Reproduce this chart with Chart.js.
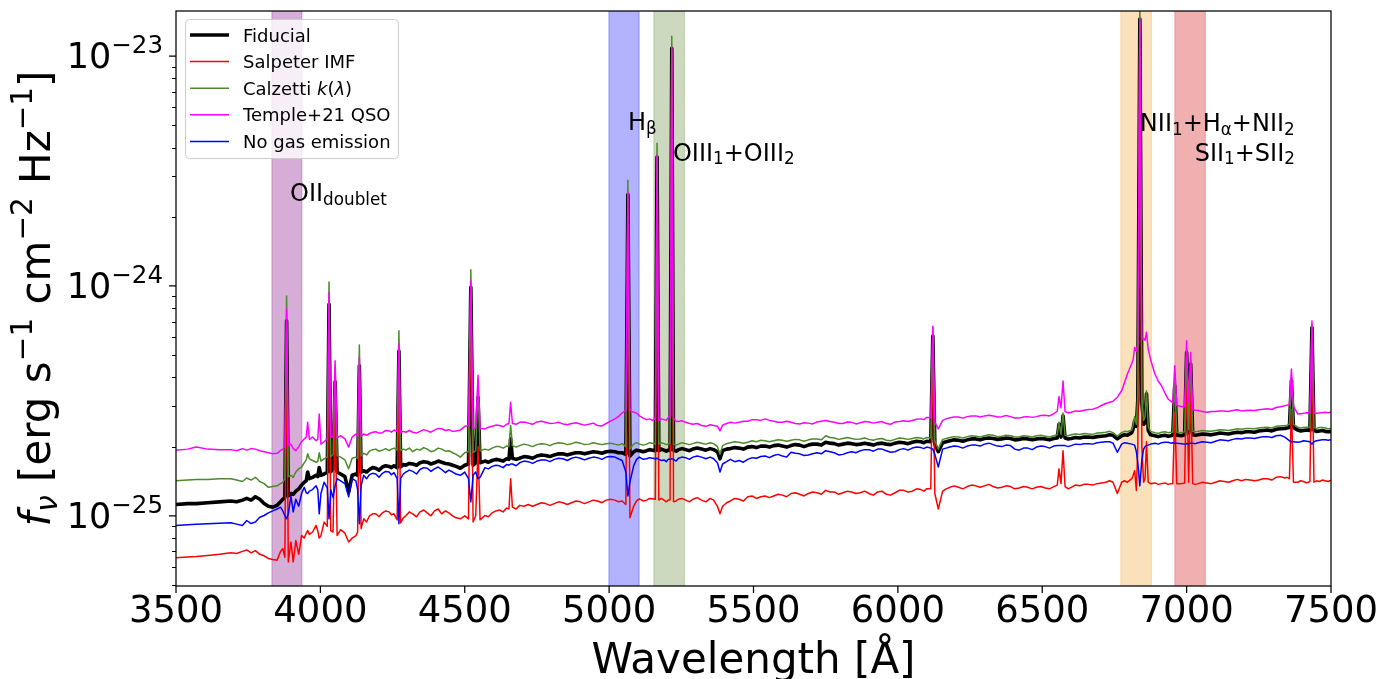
<!DOCTYPE html>
<html><head><meta charset="utf-8">
<script src="https://cdn.jsdelivr.net/npm/chart.js@4.4.0/dist/chart.umd.min.js"></script>
<style>html,body{margin:0;padding:0;background:#fff}#wrap{width:1392px;height:679px;position:relative}</style>
</head><body><div id="wrap"><canvas id="c" width="1392" height="679"></canvas></div>
<script>
// flux values are in units of 1e-25 erg s^-1 cm^-2 Hz^-1
const FLUX_UNIT = 1e-25;

const wavelength = [
3500,3540,3570,3610,3650,3690,3710,3730,3745,3760,
3775,3790,3805,3820,3835,3850,3862,3870,3877,3883,
3889,3898,3906,3915,3925,3935,3944,3951,3956,3962,
3973,3985,3991,3996,4002,4013,4024,4030,4036,4044,
4051,4058,4070,4085,4098,4110,4123,4129,4135,4141,
4150,4160,4170,4181,4192,4203,4215,4226,4238,4246,
4255,4266,4272,4278,4287,4296,4308,4320,4333,4345,
4358,4370,4383,4395,4408,4420,4433,4445,4458,4470,
4485,4500,4513,4521,4529,4538,4546,4553,4570,4582,
4595,4608,4620,4633,4645,4653,4659,4665,4678,4690,
4705,4720,4735,4750,4765,4780,4795,4810,4825,4840,
4855,4870,4885,4900,4915,4930,4945,4960,4975,4990,
5005,5020,5032,5045,5058,5065,5072,5085,5095,5105,
5118,5130,5140,5150,5160,5166,5172,5181,5190,5198,
5205,5211,5217,5223,5232,5240,5252,5265,5278,5290,
5305,5320,5335,5350,5362,5375,5384,5393,5407,5420,
5435,5450,5465,5480,5495,5510,5525,5540,5555,5570,
5585,5600,5615,5630,5645,5660,5675,5690,5705,5720,
5735,5750,5765,5780,5795,5810,5825,5840,5855,5870,
5885,5900,5915,5930,5945,5960,5975,5990,6005,6020,
6035,6050,6065,6080,6090,6100,6114,6121,6128,6140,
6155,6167,6180,6195,6210,6225,6240,6255,6270,6285,
6300,6315,6330,6345,6360,6375,6390,6405,6420,6435,
6450,6465,6480,6495,6510,6525,6540,6552,6558,6565,
6572,6579,6590,6600,6615,6630,6645,6660,6675,6690,
6705,6720,6733,6745,6760,6775,6785,6795,6810,6815,
6820,6826,6831,6838,6845,6851,6856,6861,6867,6875,
6890,6902,6913,6925,6936,6945,6952,6959,6966,6982,
6993,7000,7007,7014,7021,7030,7040,7055,7070,7085,
7100,7115,7130,7145,7160,7175,7190,7205,7220,7235,
7250,7265,7280,7295,7310,7325,7340,7348,7356,7363,
7370,7385,7395,7405,7416,7427,7434,7441,7450,7460,
7470,7480,7490,7500];

const fiducial = [
1.12,1.13,1.13,1.14,1.15,1.16,1.15,1.17,1.19,1.17,
1.21,1.18,1.13,1.10,1.09,1.11,1.15,1.18,1.20,7.05,
1.22,1.25,1.24,1.28,1.31,1.36,1.40,1.42,1.55,1.45,
1.47,1.50,1.48,1.62,1.50,1.52,1.55,8.32,1.55,1.60,
3.83,1.55,1.52,1.48,1.27,1.50,1.52,1.50,4.49,1.55,
1.57,1.55,1.59,1.62,1.61,1.58,1.63,1.65,1.64,1.62,
1.65,1.62,5.21,1.63,1.67,1.66,1.69,1.68,1.66,1.70,
1.72,1.71,1.68,1.70,1.73,1.71,1.69,1.68,1.66,1.64,
1.61,1.66,1.68,9.86,1.66,1.70,3.28,1.70,1.73,1.71,
1.74,1.76,1.75,1.73,1.77,1.76,2.16,1.78,1.76,1.78,
1.81,1.80,1.78,1.82,1.84,1.83,1.81,1.84,1.86,1.86,
1.84,1.86,1.88,1.88,1.86,1.88,1.90,1.89,1.87,1.90,
1.91,1.90,1.88,1.88,1.85,25.0,1.82,1.90,1.93,1.92,
1.90,1.92,1.94,1.93,1.92,36.4,1.92,1.95,1.93,1.91,
1.93,1.93,108,1.93,1.91,1.94,1.96,1.94,1.92,1.95,
1.97,1.95,1.93,1.96,1.94,1.90,1.77,1.92,1.95,1.96,
1.98,1.97,1.95,1.99,2.00,1.98,2.01,2.01,1.99,2.02,
2.03,2.01,1.99,2.02,2.04,2.03,2.00,2.03,2.05,2.05,
2.03,2.09,2.07,2.06,2.03,2.05,2.07,2.06,2.04,2.05,
2.07,2.05,2.03,2.06,2.07,2.05,2.04,2.07,2.09,2.08,
2.06,2.09,2.11,2.10,2.08,2.11,2.10,6.05,2.05,1.90,
2.08,2.10,2.12,2.14,2.13,2.11,2.14,2.16,2.16,2.14,
2.17,2.18,2.17,2.15,2.16,2.18,2.17,2.14,2.15,2.17,
2.16,2.14,2.16,2.17,2.16,2.14,2.17,2.18,2.50,2.20,
2.72,2.18,2.16,2.17,2.19,2.18,2.20,2.20,2.19,2.21,
2.22,2.23,2.25,2.24,2.16,2.23,2.25,2.24,2.30,2.40,
2.59,2.45,3.20,145,3.10,2.50,2.55,3.39,2.35,2.25,
2.23,2.21,2.23,2.24,2.22,2.23,2.24,3.68,2.24,2.23,
2.25,5.13,2.30,4.57,2.25,2.24,2.25,2.27,2.26,2.25,
2.27,2.29,2.28,2.27,2.29,2.31,2.30,2.32,2.32,2.31,
2.34,2.35,2.36,2.34,2.38,2.39,2.40,2.41,2.42,3.87,
2.42,2.36,2.34,2.35,2.36,2.35,6.59,2.35,2.33,2.34,
2.35,2.33,2.32,2.33];

const salpeter = [
0.657,0.662,0.665,0.672,0.68,0.69,0.685,0.70,0.71,0.69,
0.705,0.68,0.67,0.652,0.645,0.64,0.70,0.72,0.66,6.3,
0.63,0.769,0.63,0.78,0.68,0.821,0.80,0.84,0.863,0.83,
0.85,0.908,0.86,0.80,0.82,0.939,0.90,7.5,0.86,0.85,
3.1,0.82,0.87,0.84,0.769,0.80,0.82,0.85,3.8,0.88,
0.97,0.94,1.0,1.02,1.02,0.99,1.03,1.05,1.04,1.01,
1.02,0.96,4.5,0.93,0.98,1.0,1.04,1.02,0.99,1.04,
1.06,1.03,1.00,1.05,1.07,1.02,1.05,1.03,1.00,0.98,
0.97,1.0,0.97,9.0,0.939,1.0,2.0,0.96,1.003,0.99,
1.03,1.05,1.06,1.04,1.08,1.07,1.45,1.09,1.07,1.11,
1.10,1.12,1.10,1.12,1.14,1.13,1.11,1.13,1.15,1.14,
1.12,1.14,1.16,1.15,1.13,1.15,1.17,1.16,1.14,1.17,
1.18,1.17,1.15,1.16,1.12,24,0.98,1.10,1.16,1.185,
1.16,1.17,1.19,1.185,1.18,35,1.17,1.19,1.17,1.15,
1.17,1.17,105,1.15,1.16,1.18,1.19,1.17,1.15,1.18,
1.20,1.17,1.15,1.19,1.17,1.10,1.02,1.10,1.14,1.16,
1.19,1.18,1.16,1.21,1.22,1.19,1.21,1.22,1.20,1.22,
1.24,1.23,1.21,1.25,1.26,1.24,1.22,1.25,1.27,1.26,
1.24,1.29,1.27,1.27,1.24,1.26,1.28,1.27,1.25,1.26,
1.28,1.25,1.23,1.27,1.28,1.24,1.23,1.26,1.29,1.29,
1.27,1.28,1.31,1.30,1.28,1.31,1.31,5.3,1.25,1.07,
1.28,1.31,1.33,1.35,1.33,1.31,1.34,1.36,1.35,1.33,
1.35,1.37,1.34,1.32,1.33,1.35,1.34,1.31,1.32,1.34,
1.33,1.31,1.33,1.34,1.32,1.31,1.34,1.36,1.60,1.38,
1.92,1.34,1.31,1.33,1.36,1.35,1.37,1.37,1.36,1.38,
1.39,1.40,1.42,1.40,1.25,1.40,1.42,1.40,1.45,1.50,
1.57,1.29,2.0,140,2.0,1.40,1.45,2.1,1.40,1.38,
1.39,1.37,1.38,1.39,1.37,1.38,1.38,2.83,1.38,1.38,
1.39,4.3,1.40,3.7,1.38,1.37,1.38,1.40,1.39,1.38,
1.40,1.42,1.41,1.40,1.42,1.44,1.42,1.44,1.43,1.42,
1.43,1.45,1.45,1.43,1.47,1.48,1.46,1.47,1.45,2.9,
1.40,1.40,1.42,1.41,1.39,1.41,5.6,1.40,1.42,1.41,
1.43,1.42,1.41,1.43];

const calzetti = [
1.42,1.43,1.44,1.44,1.45,1.45,1.43,1.41,1.46,1.43,
1.47,1.41,1.38,1.33,1.34,1.35,1.38,1.40,1.45,9.05,
1.48,1.50,1.47,1.55,1.60,1.63,1.70,1.75,1.86,1.77,
1.74,1.71,1.72,1.88,1.73,1.77,1.80,10.4,1.80,1.85,
4.4,1.83,1.80,1.75,1.60,1.78,1.80,1.78,5.54,1.82,
1.87,1.84,1.91,1.94,1.95,1.91,1.93,1.96,1.92,1.95,
1.97,1.93,6.38,1.92,1.95,1.93,1.97,1.90,1.95,1.93,
1.98,1.95,1.90,1.92,1.97,1.95,1.91,1.92,1.88,1.85,
1.80,1.88,1.90,11.75,1.88,1.92,3.7,1.92,1.95,1.93,
1.97,2.0,2.0,1.97,2.01,2.0,2.47,2.02,1.99,2.02,
2.05,2.03,2.00,2.04,2.06,2.05,2.02,2.06,2.08,2.07,
2.04,2.06,2.09,2.07,2.04,2.05,2.08,2.06,2.04,2.06,
2.07,2.05,2.03,2.06,2.0,28.8,1.95,2.05,2.08,2.05,
2.03,2.05,2.08,2.07,2.05,41.7,2.05,2.08,2.06,2.04,
2.06,2.06,122,2.05,2.03,2.05,2.08,2.06,2.04,2.06,
2.09,2.07,2.05,2.08,2.06,2.0,1.85,2.02,2.06,2.08,
2.10,2.09,2.07,2.09,2.12,2.10,2.13,2.12,2.10,2.12,
2.14,2.13,2.11,2.13,2.15,2.14,2.11,2.14,2.16,2.16,
2.14,2.23,2.19,2.18,2.15,2.17,2.19,2.17,2.15,2.16,
2.18,2.15,2.13,2.16,2.17,2.13,2.12,2.15,2.18,2.17,
2.15,2.17,2.19,2.18,2.16,2.19,2.18,6.6,2.12,1.95,
2.15,2.17,2.19,2.21,2.20,2.18,2.21,2.23,2.22,2.20,
2.23,2.25,2.24,2.21,2.22,2.24,2.23,2.20,2.20,2.23,
2.22,2.20,2.23,2.24,2.22,2.20,2.23,2.25,2.55,2.26,
2.80,2.24,2.23,2.25,2.27,2.26,2.28,2.27,2.26,2.29,
2.30,2.31,2.33,2.30,2.22,2.30,2.33,2.32,2.36,2.48,
2.70,2.50,3.4,175,3.3,2.6,2.7,3.50,2.45,2.33,
2.30,2.28,2.31,2.32,2.30,2.31,2.31,3.80,2.31,2.30,
2.32,5.3,2.38,4.7,2.33,2.32,2.33,2.35,2.34,2.33,
2.35,2.37,2.36,2.35,2.37,2.39,2.38,2.40,2.40,2.39,
2.41,2.42,2.43,2.41,2.45,2.46,2.47,2.48,2.50,4.0,
2.50,2.43,2.41,2.42,2.43,2.42,6.8,2.42,2.40,2.42,
2.42,2.41,2.39,2.40];

const templeQSO = [
1.93,1.95,1.99,1.95,1.94,1.94,1.92,1.96,1.93,1.96,
1.95,1.92,1.90,1.88,1.86,1.87,1.92,1.95,2.0,7.93,
2.02,2.05,1.96,1.92,2.0,2.10,2.16,2.2,2.55,2.15,
2.20,2.12,2.15,2.77,2.05,2.10,2.16,9.37,2.2,2.2,
4.72,2.18,2.23,2.16,1.99,2.20,2.27,2.22,4.9,2.22,
2.27,2.24,2.28,2.31,2.32,2.29,2.30,2.35,2.34,2.31,
2.36,2.33,5.6,2.30,2.33,2.31,2.35,2.31,2.29,2.33,
2.37,2.34,2.31,2.36,2.40,2.39,2.35,2.37,2.33,2.34,
2.36,2.45,2.47,10.5,2.40,2.42,4.09,2.40,2.39,2.43,
2.45,2.48,2.47,2.44,2.50,2.52,3.12,2.52,2.50,2.55,
2.56,2.53,2.50,2.56,2.58,2.55,2.52,2.53,2.55,2.51,
2.49,2.52,2.54,2.51,2.48,2.50,2.53,2.47,2.46,2.52,
2.58,2.64,2.70,2.80,2.88,25.5,2.88,2.82,2.80,2.72,
2.66,2.62,2.64,2.60,2.65,37,2.60,2.64,2.62,2.60,
2.68,2.72,110,2.65,2.58,2.57,2.59,2.55,2.52,2.50,
2.52,2.47,2.45,2.49,2.47,2.45,2.34,2.48,2.52,2.55,
2.53,2.55,2.58,2.58,2.62,2.62,2.60,2.64,2.60,2.58,
2.55,2.55,2.58,2.55,2.52,2.51,2.54,2.53,2.51,2.56,
2.58,2.60,2.57,2.55,2.52,2.52,2.56,2.55,2.51,2.54,
2.57,2.56,2.53,2.55,2.57,2.52,2.50,2.56,2.57,2.59,
2.57,2.60,2.63,2.64,2.62,2.68,2.68,6.67,2.55,2.39,
2.60,2.64,2.67,2.69,2.69,2.66,2.70,2.72,2.72,2.69,
2.72,2.74,2.72,2.69,2.70,2.73,2.70,2.66,2.66,2.69,
2.70,2.68,2.70,2.73,2.74,2.72,2.78,2.85,3.3,2.95,
3.86,2.84,2.80,2.82,2.86,2.85,2.88,2.90,2.91,2.95,
3.02,3.08,3.12,3.15,3.28,3.50,3.80,4.14,4.6,4.8,
5.4,5.2,5.6,145,5.9,5.9,5.8,6.28,5.3,4.8,
4.14,3.85,3.68,3.42,3.22,3.15,3.10,4.49,3.02,2.99,
2.98,5.77,3.1,5.13,2.9,2.88,2.87,2.84,2.82,2.84,
2.84,2.86,2.86,2.84,2.87,2.89,2.86,2.87,2.88,2.87,
2.89,2.91,2.92,2.90,2.96,2.98,3.01,3.03,3.05,4.35,
3.0,2.77,2.78,2.79,2.81,2.80,7.03,2.80,2.79,2.80,
2.81,2.82,2.81,2.82];

const noGasEmission = [
0.908,0.915,0.918,0.923,0.928,0.932,0.92,0.908,0.954,0.925,
0.939,0.985,1.003,1.03,1.05,1.07,1.09,1.05,1.0,0.97,
1.02,1.22,1.04,1.18,1.10,1.25,1.33,1.26,1.25,1.28,
1.30,1.35,1.3,1.02,1.25,1.40,1.32,0.97,1.30,1.2,
1.35,1.45,1.42,1.38,1.21,1.45,1.42,1.30,0.923,1.35,
1.50,1.45,1.51,1.53,1.52,1.47,1.53,1.56,1.55,1.51,
1.54,1.45,0.923,1.45,1.52,1.55,1.58,1.56,1.52,1.59,
1.62,1.61,1.56,1.60,1.63,1.59,1.54,1.58,1.55,1.52,
1.50,1.55,1.45,1.15,1.50,1.55,1.45,1.47,1.62,1.60,
1.64,1.66,1.65,1.62,1.67,1.66,1.68,1.68,1.65,1.70,
1.73,1.72,1.69,1.73,1.75,1.75,1.72,1.76,1.78,1.77,
1.74,1.78,1.80,1.78,1.75,1.78,1.80,1.79,1.76,1.80,
1.81,1.80,1.77,1.74,1.55,1.22,1.40,1.65,1.76,1.80,
1.76,1.77,1.79,1.78,1.77,1.78,1.76,1.74,1.75,1.72,
1.76,1.76,1.77,1.76,1.73,1.78,1.80,1.79,1.76,1.80,
1.82,1.80,1.77,1.80,1.77,1.70,1.55,1.68,1.72,1.76,
1.72,1.74,1.71,1.76,1.79,1.78,1.81,1.82,1.79,1.83,
1.85,1.82,1.80,1.89,1.87,1.86,1.83,1.84,1.86,1.88,
1.86,1.92,1.90,1.88,1.84,1.85,1.88,1.90,1.88,1.92,
1.94,1.94,1.91,1.95,1.95,1.92,1.89,1.90,1.94,1.96,
1.93,1.97,1.99,1.98,1.96,1.99,1.97,1.95,1.85,1.63,
1.95,1.97,1.99,2.01,2.0,1.97,2.01,2.03,2.03,2.01,
2.05,2.07,2.04,2.01,2.0,2.03,2.02,1.95,1.93,1.97,
1.97,1.94,1.99,2.01,2.0,1.97,2.01,2.02,2.02,2.02,
2.02,2.02,2.0,2.02,2.05,2.04,2.06,2.06,2.05,2.08,
2.09,2.10,2.10,2.07,1.89,2.05,2.08,2.07,2.05,2.04,
2.03,1.9,1.7,1.35,1.75,1.95,2.0,2.02,2.03,2.05,
2.07,2.05,2.08,2.09,2.09,2.07,2.08,2.07,2.07,2.06,
2.05,2.06,2.06,2.07,2.07,2.06,2.08,2.10,2.09,2.08,
2.11,2.14,2.13,2.12,2.15,2.17,2.16,2.18,2.18,2.17,
2.19,2.21,2.21,2.19,2.23,2.24,2.20,2.16,2.12,2.10,
2.10,2.09,2.10,2.12,2.11,2.10,2.05,2.10,2.12,2.13,
2.14,2.14,2.13,2.14];

const xTickValues = [3500,4000,4500,5000,5500,6000,6500,7000,7500];
const yMajorTicks = [1e-25,1e-24,1e-23];
const yMajorExponents = ['\u221225','\u221224','\u221223'];
const yMinorTicks = [5e-26,6e-26,7e-26,8e-26,9e-26,
  2e-25,3e-25,4e-25,5e-25,6e-25,7e-25,8e-25,9e-25,
  2e-24,3e-24,4e-24,5e-24,6e-24,7e-24,8e-24,9e-24];
const yRange = [4.95e-26, 1.57e-23];
const xRange = [3500, 7500];

// shaded line windows [from, to] in Angstrom
const bandRanges = [[3832,3936],[4999,5104],[5155,5261],[6772,6878],[6959,7065]];

// ------------------------------------------------------------------
const FONT = '"DejaVu Sans", "Liberation Sans", sans-serif';
const bandFill = ['rgba(128,0,128,0.32)','rgba(0,0,255,0.30)','rgba(85,130,40,0.30)','rgba(240,170,60,0.35)','rgba(215,30,30,0.35)'];
const bandEdge = ['rgba(128,0,128,0.25)','rgba(0,0,255,0.25)','rgba(85,130,40,0.25)','rgba(240,170,60,0.3)','rgba(215,30,30,0.25)'];

const seriesDefs = [
  {label:'Fiducial', values:fiducial, color:'#000000', width:3.6, order:5, rich:[['Fiducial','n']]},
  {label:'Salpeter IMF', values:salpeter, color:'#ff0000', width:1.5, order:4, rich:[['Salpeter IMF','n']]},
  {label:'Calzetti k(\u03bb)', values:calzetti, color:'#4b8a2a', width:1.5, order:3, rich:[['Calzetti ','n'],['k','i'],['(','n'],['\u03bb','i'],[')','n']]},
  {label:'Temple+21 QSO', values:templeQSO, color:'#ff00ff', width:1.5, order:2, rich:[['Temple+21 QSO','n']]},
  {label:'No gas emission', values:noGasEmission, color:'#0000ff', width:1.5, order:1, rich:[['No gas emission','n']]}
];

const annotations = [
  {segs:[['OII','n'],['doublet','b']], lam:3895, flux:23.3, align:'left'},
  {segs:[['H','n'],['\u03b2','b']], lam:5065, flux:47.7, align:'left'},
  {segs:[['OIII','n'],['1','b'],['+OIII','n'],['2','b']], lam:5221, flux:35.1, align:'left'},
  {segs:[['NII','n'],['1','b'],['+H','n'],['\u03b1','b'],['+NII','n'],['2','b']], lam:6838, flux:47.2, align:'left'},
  {segs:[['SII','n'],['1','b'],['+SII','n'],['2','b']], lam:7375, flux:35.1, align:'right'}
];

function fontFor(kind, size){
  const small = (kind==='b'||kind==='p'||kind==='bi');
  const px = small ? size*0.7 : size;
  const it = (kind==='i'||kind==='bi') ? 'italic ' : '';
  return {font: it + px.toFixed(2) + 'px ' + FONT, dy: kind==='b'||kind==='bi' ? size*0.16 : (kind==='p' ? -size*0.43 : 0)};
}
function richWidth(ctx, segs, size){
  let w = 0;
  for (const [t,k] of segs){ ctx.font = fontFor(k,size).font; w += ctx.measureText(t).width; }
  return w;
}
function drawRich(ctx, segs, x, y, size, align){
  const w = richWidth(ctx, segs, size);
  let cx = align==='right' ? x - w : (align==='center' ? x - w/2 : x);
  ctx.textAlign = 'left'; ctx.textBaseline = 'alphabetic';
  for (const [t,k] of segs){
    const f = fontFor(k,size);
    ctx.font = f.font;
    ctx.fillText(t, cx, y + f.dy);
    cx += ctx.measureText(t).width;
  }
}

const decor = {
  id:'decor',
  beforeDatasetsDraw(chart){
    const {ctx, chartArea:a, scales:{x}} = chart;
    ctx.save();
    ctx.beginPath(); ctx.rect(a.left, a.top, a.right-a.left, a.bottom-a.top); ctx.clip();
    bandRanges.forEach((r,i)=>{
      const x0 = x.getPixelForValue(r[0]), x1 = x.getPixelForValue(r[1]);
      ctx.fillStyle = bandFill[i];
      ctx.fillRect(x0, a.top, x1-x0, a.bottom-a.top);
      ctx.strokeStyle = bandEdge[i]; ctx.lineWidth = 1.2;
      ctx.beginPath();
      ctx.moveTo(x0, a.top); ctx.lineTo(x0, a.bottom);
      ctx.moveTo(x1, a.top); ctx.lineTo(x1, a.bottom);
      ctx.stroke();
    });
    ctx.restore();
  },
  afterDraw(chart){
    const {ctx, chartArea:a, scales:{x, y}} = chart;
    ctx.save();
    ctx.fillStyle = '#000';
    annotations.forEach(an=>{
      drawRich(ctx, an.segs, x.getPixelForValue(an.lam), y.getPixelForValue(an.flux*FLUX_UNIT), 24, an.align);
    });
    ctx.strokeStyle = '#000'; ctx.lineWidth = 1.25;
    ctx.strokeRect(a.left, a.top, a.right-a.left, a.bottom-a.top);
    ctx.beginPath();
    xTickValues.forEach(v=>{ const px = x.getPixelForValue(v); ctx.moveTo(px, a.bottom); ctx.lineTo(px, a.bottom+7); });
    yMajorTicks.forEach(v=>{ const py = y.getPixelForValue(v); ctx.moveTo(a.left, py); ctx.lineTo(a.left-7, py); });
    ctx.stroke();
    ctx.lineWidth = 1;
    ctx.beginPath();
    yMinorTicks.forEach(v=>{ const py = Math.round(y.getPixelForValue(v))+0.5; ctx.moveTo(a.left, py); ctx.lineTo(a.left-4, py); });
    ctx.stroke();
    ctx.font = '37px ' + FONT; ctx.textAlign = 'center'; ctx.textBaseline = 'alphabetic';
    xTickValues.forEach(v=>{ ctx.fillText(String(v), x.getPixelForValue(v), a.bottom + 36); });
    yMajorTicks.forEach((v,i)=>{
      const py = y.getPixelForValue(v);
      drawRich(ctx, [['10','n'],[yMajorExponents[i],'p']], a.left - 13, py + 12, 35, 'right');
    });
    ctx.font = '42px ' + FONT; ctx.textAlign = 'center';
    ctx.fillText('Wavelength [\u00c5]', (a.left+a.right)/2, 673);
    ctx.save();
    ctx.translate(50, (a.top+a.bottom)/2);
    ctx.rotate(-Math.PI/2);
    drawRich(ctx, [['f','i'],['\u03bd','bi'],[' [erg s','n'],['\u22121','p'],[' cm','n'],['\u22122','p'],[' Hz','n'],['\u22121','p'],[']','n']], 0, 0, 42, 'center');
    ctx.restore();
    const lx = a.left + 9, ly = a.top + 8, lw = 213, lh = 139;
    ctx.fillStyle = 'rgba(255,255,255,0.8)';
    ctx.strokeStyle = '#cccccc'; ctx.lineWidth = 1;
    ctx.beginPath();
    if (ctx.roundRect) ctx.roundRect(lx+0.5, ly+0.5, lw, lh, 4); else ctx.rect(lx+0.5, ly+0.5, lw, lh);
    ctx.fill(); ctx.stroke();
    seriesDefs.forEach((s,i)=>{
      const ry = ly + 16 + i*26.6;
      ctx.strokeStyle = s.color; ctx.lineWidth = s.width;
      ctx.beginPath(); ctx.moveTo(lx+5, ry); ctx.lineTo(lx+44, ry); ctx.stroke();
      ctx.fillStyle = '#000';
      drawRich(ctx, s.rich, lx+58, ry+6.5, 18, 'left');
    });
    ctx.restore();
  }
};

const chart = new Chart(document.getElementById('c'), {
  type:'line',
  data:{
    datasets: seriesDefs.map(s=>({
      label:s.label,
      data: wavelength.map((w,i)=>({x:w, y:s.values[i]*FLUX_UNIT})),
      borderColor:s.color, backgroundColor:s.color, borderWidth:s.width,
      pointRadius:0, tension:0, fill:false, order:s.order,
      borderJoinStyle:'round'
    }))
  },
  options:{
    responsive:false, devicePixelRatio:1, animation:false,
    layout:{padding:{top:11, right:61, left:0, bottom:0}},
    plugins:{legend:{display:false}, tooltip:{enabled:false}},
    events:[],
    scales:{
      x:{type:'linear', min:xRange[0], max:xRange[1], position:'bottom',
         ticks:{display:false}, grid:{display:false}, border:{display:false},
         afterFit(scale){ scale.height = 93; }},
      y:{type:'logarithmic', min:yRange[0], max:yRange[1], position:'left',
         ticks:{display:false}, grid:{display:false}, border:{display:false},
         afterFit(scale){ scale.width = 176; }}
    }
  },
  plugins:[decor]
});
</script></body></html>
